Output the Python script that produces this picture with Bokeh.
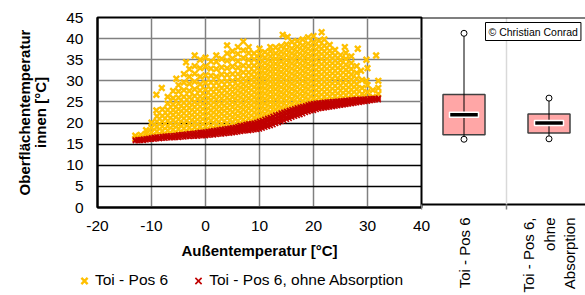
import math
from bokeh.plotting import figure
from bokeh.models import (Range1d, FixedTicker, Grid, Legend, LegendItem, Span,
                          Label, ColumnDataSource)
from bokeh.layouts import row, column
from bokeh.embed import file_html
from bokeh.resources import INLINE

FONT = "Liberation Sans"
YELLOW = "#FFC000"
RED = "#C00000"

x_ticks = [-20, -10, 0, 10, 20, 30, 40]
x_tick_labels = ["-20", "-10", "0", "10", "20", "30", "40"]
y_ticks = [0, 5, 10, 15, 20, 25, 30, 35, 40, 45]
y_grid_dark = [5, 10, 15, 20]
y_grid_light = [25, 30, 35, 40]

x_title = "Außentemperatur [°C]"
y_title = "Oberflächentemperatur\ninnen [°C]"
series_names = ["Toi - Pos 6", "Toi - Pos 6, ohne Absorption"]

yellow_col_x = [-13, -12, -11, -10, -9.1, -9, -8.1, -8, -7, -6, -5.4, -5, -4, -3.6, -3, -2, -1,
                0, 1, 2, 3, 4, 5, 6, 7, 8, 9, 10, 11, 12, 13, 14, 14.3, 15, 15.2, 16, 17, 18,
                19, 20, 21, 21.5, 22, 23, 24, 25, 25.8, 26, 27, 28, 28.2, 28.8, 29, 29.8, 30,
                31, 31.6, 32]
yellow_col_y = [
    [16.3, 17.0],
    [16.4, 17.2],
    [16.6, 17.5, 18.3],
    [16.8, 17.8, 18.9, 20.1],
    [23.0, 26.7],
    [17.0, 18.0, 19.1, 20.3, 21.6],
    [28.3],
    [17.1, 18.1, 19.2, 20.4, 21.7, 23.2],
    [17.2, 18.2, 19.3, 20.5, 21.8, 23.1, 24.6, 26.2],
    [17.3, 18.4, 19.5, 20.7, 21.9, 23.1, 24.4, 25.9, 27.6],
    [30.5],
    [17.5, 18.6, 19.7, 20.9, 22.1, 23.3, 24.6, 26.0, 27.5, 29.0],
    [17.6, 18.7, 19.9, 21.1, 22.3, 23.5, 24.8, 26.2, 27.8, 29.6, 31.6],
    [34.4],
    [17.8, 18.9, 20.0, 21.2, 22.4, 23.6, 24.8, 26.1, 27.6, 29.3, 31.0, 32.8],
    [17.9, 19.0, 20.2, 21.4, 22.6, 23.8, 25.0, 26.4, 28.0, 29.8, 31.7, 33.5, 36.0],
    [18.0, 19.1, 20.3, 21.5, 22.7, 23.9, 25.1, 26.3, 27.7, 29.2, 31.0, 33.0, 35.0],
    [18.1, 19.2, 20.4, 21.6, 22.8, 24.0, 25.2, 26.5, 27.9, 29.5, 31.3, 33.4, 35.5],
    [18.3, 19.4, 20.6, 21.8, 23.0, 24.2, 25.4, 26.6, 28.0, 29.6, 31.2, 32.9, 34.6],
    [18.5, 19.6, 20.8, 22.0, 23.2, 24.4, 25.6, 26.8, 28.1, 29.5, 31.0, 32.8, 34.5, 36.0],
    [18.7, 19.8, 21.0, 22.2, 23.4, 24.6, 25.8, 27.0, 28.3, 29.8, 31.5, 33.2, 35.2],
    [18.9, 20.0, 21.2, 22.4, 23.6, 24.8, 26.0, 27.2, 28.5, 29.9, 31.4, 33.0, 34.8, 36.5, 38.4],
    [19.1, 20.2, 21.4, 22.6, 23.8, 25.0, 26.2, 27.4, 28.6, 30.0, 31.6, 33.4, 35.3, 37.0],
    [19.4, 20.5, 21.7, 22.9, 24.1, 25.3, 26.5, 27.7, 28.9, 30.2, 31.6, 33.1, 34.7, 36.4, 38.0],
    [19.7, 20.8, 22.0, 23.2, 24.4, 25.6, 26.8, 28.0, 29.2, 30.5, 32.0, 33.6, 35.4, 37.2, 39.3],
    [20.0, 21.1, 22.3, 23.5, 24.7, 25.9, 27.1, 28.3, 29.5, 30.7, 32.0, 33.5, 35.0, 36.6, 38.0],
    [20.2, 21.3, 22.5, 23.7, 24.9, 26.1, 27.3, 28.5, 29.7, 30.9, 32.2, 33.6, 35.1, 36.5],
    [20.6, 21.7, 22.9, 24.1, 25.3, 26.5, 27.7, 28.9, 30.1, 31.3, 32.5, 33.8, 35.2, 36.4, 37.6],
    [21.1, 22.2, 23.4, 24.6, 25.8, 27.0, 28.2, 29.4, 30.6, 31.8, 33.0, 34.2, 35.5, 36.8],
    [21.5, 22.6, 23.8, 25.0, 26.2, 27.4, 28.6, 29.8, 31.0, 32.2, 33.4, 34.6, 35.8, 37.0, 38.0],
    [22.1, 23.2, 24.4, 25.6, 26.8, 28.0, 29.2, 30.4, 31.6, 32.8, 34.0, 35.2, 36.5, 37.9],
    [22.6, 23.7, 24.9, 26.1, 27.3, 28.5, 29.7, 30.9, 32.1, 33.3, 34.5, 35.7, 36.9, 38.2],
    [40.9],
    [23.0, 24.1, 25.3, 26.5, 27.7, 28.9, 30.1, 31.3, 32.5, 33.7, 34.9, 36.1, 37.3, 38.6],
    [40.4],
    [23.4, 24.5, 25.7, 26.9, 28.1, 29.3, 30.5, 31.7, 32.9, 34.1, 35.3, 36.5, 37.7, 39.2],
    [23.8, 24.9, 26.1, 27.3, 28.5, 29.7, 30.9, 32.1, 33.3, 34.5, 35.7, 36.9, 38.1, 39.4],
    [24.1, 25.2, 26.4, 27.6, 28.8, 30.0, 31.2, 32.4, 33.6, 34.8, 36.0, 37.2, 38.4, 39.8],
    [24.5, 25.6, 26.8, 28.0, 29.2, 30.4, 31.6, 32.8, 34.0, 35.2, 36.4, 37.6, 38.8, 40.3],
    [24.8, 25.9, 27.1, 28.3, 29.5, 30.7, 31.9, 33.1, 34.3, 35.5, 36.7, 37.9, 39.1, 40.6],
    [25.0, 26.1, 27.3, 28.5, 29.7, 30.9, 32.1, 33.3, 34.5, 35.7, 36.9, 38.1, 39.5],
    [41.5],
    [25.1, 26.2, 27.4, 28.6, 29.8, 31.0, 32.2, 33.4, 34.6, 35.8, 37.0, 38.3, 39.8],
    [25.2, 26.3, 27.5, 28.7, 29.9, 31.1, 32.3, 33.5, 34.7, 35.9, 37.1, 38.5],
    [25.3, 26.4, 27.6, 28.8, 30.0, 31.2, 32.4, 33.6, 34.8, 36.0, 37.3],
    [25.4, 26.5, 27.7, 28.9, 30.1, 31.3, 32.5, 33.7, 34.9, 36.1],
    [38.0],
    [25.5, 26.6, 27.8, 29.0, 30.2, 31.4, 32.6, 33.8, 35.2, 36.6],
    [25.6, 26.7, 27.9, 29.1, 30.3, 31.5, 32.8, 34.2, 35.8],
    [25.7, 26.8, 28.0, 29.2, 30.5, 31.9, 33.5],
    [37.6],
    [32.4],
    [25.8, 26.9, 28.3, 30.2],
    [35.0, 30.0],
    [26.0, 27.3, 29.0, 33.0],
    [26.2, 27.8],
    [36.0],
    [26.9, 28.3, 30.0],
]

red_x = [-13.0, -12.5, -12.0, -11.5, -11.0, -10.5, -10.0, -9.5, -9.0, -8.5, -8.0, -7.5, -7.0,
         -6.5, -6.0, -5.5, -5.0, -4.5, -4.0, -3.5, -3.0, -2.5, -2.0, -1.5, -1.0, -0.5, 0.0,
         0.5, 1.0, 1.5, 2.0, 2.5, 3.0, 3.5, 4.0, 4.5, 5.0, 5.5, 6.0, 6.5, 7.0, 7.5, 8.0, 8.5,
         9.0, 9.5, 10.0, 10.5, 11.0, 11.5, 12.0, 12.5, 13.0, 13.5, 14.0, 14.5, 15.0, 15.5,
         16.0, 16.5, 17.0, 17.5, 18.0, 18.5, 19.0, 19.5, 20.0, 20.5, 21.0, 21.5, 22.0, 22.5,
         23.0, 23.5, 24.0, 24.5, 25.0, 25.5, 26.0, 26.5, 27.0, 27.5, 28.0, 28.5, 29.0, 29.5,
         30.0, 30.5, 31.0, 31.5, 32.0]
red_y_low = [15.8, 15.8, 15.9, 15.9, 16.0, 16.1, 16.2, 16.2, 16.3, 16.3, 16.4, 16.4, 16.5,
             16.5, 16.5, 16.6, 16.6, 16.7, 16.7, 16.8, 16.8, 16.9, 16.9, 16.9, 17.0, 17.0, 17.0,
             17.1, 17.2, 17.2, 17.3, 17.4, 17.4, 17.5, 17.6, 17.6, 17.7, 17.8, 17.9, 18.0, 18.1,
             18.2, 18.2, 18.3, 18.4, 18.5, 18.6, 18.8, 19.0, 19.2, 19.4, 19.6, 19.9, 20.1, 20.4,
             20.6, 20.9, 21.1, 21.4, 21.6, 21.8, 22.0, 22.2, 22.5, 22.7, 22.9, 23.0, 23.2, 23.4,
             23.5, 23.6, 23.7, 23.8, 23.9, 24.0, 24.1, 24.2, 24.3, 24.4, 24.5, 24.6, 24.7, 24.8,
             24.9, 25.0, 25.1, 25.2, 25.3, 25.4, 25.5, 25.5]
red_y_high = [16.0, 16.1, 16.1, 16.2, 16.3, 16.4, 16.5, 16.6, 16.7, 16.7, 16.8, 16.9, 16.9,
              17.0, 17.0, 17.1, 17.2, 17.3, 17.3, 17.4, 17.5, 17.5, 17.6, 17.7, 17.8, 17.8, 17.9,
              18.0, 18.1, 18.2, 18.3, 18.4, 18.5, 18.6, 18.7, 18.8, 18.9, 19.0, 19.2, 19.4, 19.5,
              19.7, 19.8, 19.9, 20.0, 20.2, 20.4, 20.6, 20.9, 21.1, 21.3, 21.6, 21.9, 22.1, 22.4,
              22.6, 22.8, 23.0, 23.2, 23.4, 23.6, 23.8, 23.9, 24.1, 24.3, 24.5, 24.6, 24.7, 24.8,
              24.8, 24.9, 25.0, 25.0, 25.1, 25.1, 25.2, 25.2, 25.3, 25.4, 25.4, 25.5, 25.5, 25.6,
              25.6, 25.6, 25.7, 25.7, 25.8, 25.8, 25.8, 25.9]
red_mid_x = [-1.0, -0.5, 0.0, 0.5, 1.0, 1.5, 2.0, 2.5, 3.0, 3.5, 4.0, 4.5, 5.0, 5.5, 6.0, 6.5,
             7.0, 7.5, 8.0, 8.5, 9.0, 9.5, 10.0, 10.5, 11.0, 11.5, 12.0, 12.5, 13.0, 13.5, 14.0,
             14.5, 15.0, 15.5, 16.0, 16.5, 17.0, 17.5, 18.0, 18.5, 19.0, 19.5, 20.0, 20.5, 21.0,
             21.5, 22.0, 22.5, 23.0, 23.5, 24.0, 24.5, 25.0, 25.5, 26.0, 26.5, 27.0, 27.5, 28.0,
             28.5, 29.0]
red_mid_y = [17.4, 17.4, 17.45, 17.55, 17.65, 17.7, 17.8, 17.9, 17.95, 18.05, 18.15, 18.2, 18.3,
             18.4, 18.3, 18.5, 18.6, 18.7, 18.7, 18.8, 18.9, 19.1, 19.2, 19.4, 19.6, 19.8, 20.0,
             20.3, 20.6, 20.8, 21.1, 21.3, 21.5, 21.7, 22.0, 22.2, 22.4, 22.6, 22.8, 23.0, 23.2,
             23.4, 23.5, 23.7, 23.9, 23.9, 24.0, 24.1, 24.2, 24.3, 24.4, 24.5, 24.5, 24.6, 24.7,
             24.95, 25.05, 25.1, 25.2, 25.25, 25.3]
red_mid2_x = [6.0, 6.5, 7.0, 7.5, 8.0, 8.5, 9.0, 9.5, 10.0, 10.5, 11.0, 11.5, 12.0, 12.5, 13.0,
              13.5, 14.0, 14.5, 15.0, 15.5, 16.0, 16.5, 17.0, 17.5, 18.0, 18.5, 19.0, 19.5,
              20.0, 20.5, 21.0, 21.5, 22.0, 22.5, 23.0, 23.5, 24.0, 24.5, 25.0, 25.5, 26.0]
red_mid2_y = [18.8, 18.9, 19.0, 19.2, 19.3, 19.4, 19.5, 19.6, 19.8, 20.0, 20.3, 20.5, 20.7,
              20.9, 21.2, 21.4, 21.7, 21.9, 22.2, 22.4, 22.6, 22.8, 23.0, 23.2, 23.3, 23.6,
              23.8, 24.0, 24.1, 24.2, 24.3, 24.4, 24.5, 24.6, 24.6, 24.7, 24.7, 24.8, 24.9,
              25.0, 25.1]

box_labels = ["Toi - Pos 6", "Toi - Pos 6,\nohne\nAbsorption"]
box_low = [15.7, 15.8]
box_q1 = [16.8, 17.2]
box_median = [21.6, 19.6]
box_q3 = [26.5, 21.8]
box_high = [41.2, 25.6]

copyright_text = "© Christian Conrad"

# ---------------- data sources ----------------
yellow_src = ColumnDataSource(dict(
    x=[x for x, ys in zip(yellow_col_x, yellow_col_y) for _ in ys],
    y=[y for ys in yellow_col_y for y in ys]))
red_src = ColumnDataSource(dict(
    x=red_x + red_x + red_mid_x + red_mid2_x,
    y=red_y_low + red_y_high + red_mid_y + red_mid2_y))
YELLOW_STYLE = dict(marker="x", size=8, line_color=YELLOW, line_width=2.4)
RED_STYLE = dict(marker="x", size=7, line_color=RED, line_width=1.6)

# ================= scatter figure =================
p = figure(width=431, height=268, x_range=Range1d(-20, 40), y_range=Range1d(0, 45),
           output_backend="svg", toolbar_location=None, frame_align=False,
           min_border_left=97, min_border_right=10, min_border_top=17, min_border_bottom=61)
p.background_fill_color = "white"
p.border_fill_color = "white"
p.outline_line_color = "black"
p.outline_line_width = 2

p.xaxis.ticker = FixedTicker(ticks=x_ticks)
p.xaxis.major_label_overrides = {t: s for t, s in zip(x_ticks, x_tick_labels)}
p.yaxis.ticker = FixedTicker(ticks=y_ticks)
for ax in (p.xaxis[0], p.yaxis[0]):
    ax.axis_line_color = "black"
    ax.axis_line_width = 2
    ax.major_tick_line_color = None
    ax.minor_tick_line_color = None
    ax.major_tick_out = 0
    ax.major_tick_in = 0
    ax.minor_tick_out = 0
    ax.minor_tick_in = 0
    ax.major_label_text_font = FONT
    ax.major_label_text_font_size = "15.5px"
    ax.major_label_text_color = "black"
    ax.axis_label_text_font = FONT
    ax.axis_label_text_font_size = "15px"
    ax.axis_label_text_font_style = "bold"
    ax.axis_label_text_color = "black"
    ax.axis_label_text_line_height = 0.95
p.xaxis.axis_label = x_title
p.yaxis.axis_label = y_title
p.xaxis.major_label_standoff = 13
p.xaxis.axis_label_standoff = 8
p.yaxis.major_label_standoff = 14
p.yaxis.axis_label_standoff = 14

p.xgrid.ticker = FixedTicker(ticks=x_ticks)
p.xgrid.grid_line_color = "#808080"
p.xgrid.grid_line_width = 1.5
p.ygrid.ticker = FixedTicker(ticks=y_grid_light)
p.ygrid.grid_line_color = "#808080"
p.ygrid.grid_line_width = 1.5
p.add_layout(Grid(dimension=1, ticker=FixedTicker(ticks=y_grid_dark),
                  grid_line_color="black", grid_line_width=1.5))

p.scatter("x", "y", source=yellow_src, **YELLOW_STYLE)
p.scatter("x", "y", source=red_src, **RED_STYLE)

# ================= legend strip (below the scatter) =================
lg = figure(width=431, height=27, x_range=Range1d(0, 1), y_range=Range1d(0, 1),
            output_backend="svg", toolbar_location=None, frame_align=False,
            x_axis_location=None, y_axis_location=None,
            min_border_left=0, min_border_right=0, min_border_top=0, min_border_bottom=0)
lg.outline_line_color = None
lg.grid.visible = False
lg.background_fill_color = None
lg.border_fill_color = None
# same series, same style: the legend glyphs (the points fall outside this strip's ranges)
ly = lg.scatter("x", "y", source=yellow_src, **YELLOW_STYLE)
lr = lg.scatter("x", "y", source=red_src, **RED_STYLE)
legend = Legend(items=[LegendItem(label=series_names[0], renderers=[ly]),
                       LegendItem(label=series_names[1], renderers=[lr])],
                location=(73, 2.5), orientation="horizontal", padding=0, margin=0,
                spacing=19, glyph_width=22, glyph_height=25, label_height=25,
                label_standoff=0, border_line_color=None, background_fill_alpha=0,
                label_text_font=FONT, label_text_font_size="15.5px",
                label_text_color="black", label_text_baseline="middle")
lg.add_layout(legend)

# ================= box plot figure =================
CAT_PX = 85.0
q = figure(width=164, height=295, x_range=Range1d(0, 164 / CAT_PX), y_range=p.y_range,
           output_backend="svg", toolbar_location=None, y_axis_location=None,
           frame_align=False,
           min_border_left=0, min_border_right=0, min_border_top=17, min_border_bottom=88,
           margin=(0, 0, 0, -10))
q.background_fill_color = None
q.border_fill_color = None
q.outline_line_color = None
q.grid.visible = False

cats = [0.5, 1.5]
q.xaxis.ticker = FixedTicker(ticks=cats, minor_ticks=[0, 1, 2])
q.xaxis.major_label_overrides = {c: lab for c, lab in zip(cats, box_labels)}
q.xaxis.major_label_orientation = math.pi / 2
q.xaxis.axis_line_color = "black"
q.xaxis.axis_line_width = 2
q.xaxis.major_tick_line_color = None
q.xaxis.major_tick_out = 0
q.xaxis.major_tick_in = 0
q.xaxis.minor_tick_line_color = "#808080"
q.xaxis.minor_tick_line_width = 1.5
q.xaxis.minor_tick_out = 5
q.xaxis.minor_tick_in = 0
q.xaxis.major_label_standoff = 8
q.xaxis.major_label_text_font = FONT
q.xaxis.major_label_text_font_size = "15px"
q.xaxis.major_label_text_color = "black"

q.add_layout(Span(location=1, dimension="height", line_color="#D9D9D9", line_width=1.5))
q.add_layout(Span(location=45, dimension="width", line_color="black", line_width=2))

src = ColumnDataSource(dict(cat=cats, low=box_low, q1=box_q1, med=box_median, q3=box_q3,
                            high=box_high))
q.vbar(x="cat", width=42 / CAT_PX, bottom="q1", top="q3", source=src,
       fill_color="#FFA6A6", line_color="#404040", line_width=1.5)
q.segment(x0="cat", y0="low", x1="cat", y1="high", source=src, line_color="black", line_width=1)
q.rect(x="cat", y="med", width=29 / CAT_PX, height=5, height_units="screen", source=src,
       fill_color="black", line_color="white", line_width=1.5)
q.scatter(x="cat", y="low", source=src, marker="circle", size=6, fill_color="white",
          line_color="black", line_width=1)
q.scatter(x="cat", y="high", source=src, marker="circle", size=6, fill_color="white",
          line_color="black", line_width=1)

q.add_layout(Label(x=64, y=182, x_units="screen", y_units="screen", text=copyright_text,
                   text_font=FONT, text_font_size="10.5px", text_color="black",
                   text_align="left", text_baseline="top", padding=3,
                   background_fill_color="white", border_line_color="black",
                   border_line_width=1))

layout = row(column(p, lg), q)
open("out.html", "w").write(file_html(layout, INLINE))
